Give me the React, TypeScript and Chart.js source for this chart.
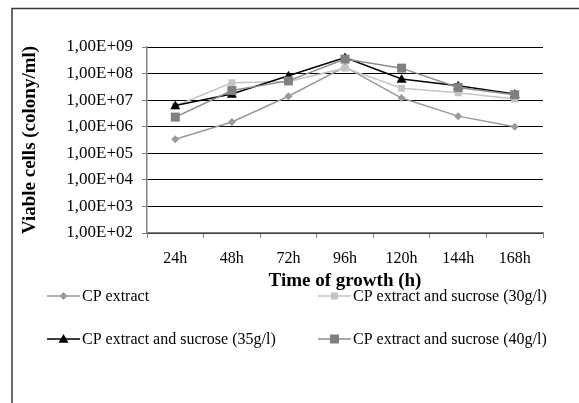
import React, { useEffect, useRef } from 'react';
import { Chart, registerables } from 'chart.js';

Chart.register(...registerables);

const categories = ['24h', '48h', '72h', '96h', '120h', '144h', '168h'];
const seriesLabels = [
  'CP extract',
  'CP extract and sucrose (30g/l)',
  'CP extract and sucrose (35g/l)',
  'CP extract and sucrose (40g/l)',
];
const cpExtract = [3.4e5, 1.5e6, 1.4e7, 1.8e8, 1.2e7, 2.5e6, 1.0e6];
const sucrose30 = [6.0e6, 4.5e7, 5.0e7, 1.6e8, 2.8e7, 1.9e7, 1.1e7];
const sucrose35 = [6.3e6, 1.7e7, 8.3e7, 4.0e8, 6.3e7, 3.5e7, 1.7e7];
const sucrose40 = [2.3e6, 2.3e7, 5.3e7, 3.5e8, 1.6e8, 3.0e7, 1.6e7];
const yTickValues = [1e2, 1e3, 1e4, 1e5, 1e6, 1e7, 1e8, 1e9];
const yTickLabels = ['1,00E+02', '1,00E+03', '1,00E+04', '1,00E+05', '1,00E+06', '1,00E+07', '1,00E+08', '1,00E+09'];
const xTitle = 'Time of growth (h)';
const yTitle = 'Viable cells (colony/ml)';

const FONT = "'Liberation Serif', 'Times New Roman', serif";

type Style = { line: string; fill: string; shape: 'diamond' | 'square' | 'triangle'; size: number };
const styles: Style[] = [
  { line: '#999999', fill: '#999999', shape: 'diamond', size: 4 },
  { line: '#c4c4c4', fill: '#c4c4c4', shape: 'square', size: 3.5 },
  { line: '#000000', fill: '#000000', shape: 'triangle', size: 5 },
  { line: '#8c8c8c', fill: '#808080', shape: 'square', size: 4.5 },
];

function drawMarker(ctx: CanvasRenderingContext2D, s: Style, x: number, y: number) {
  ctx.save();
  ctx.fillStyle = s.fill;
  ctx.beginPath();
  const r = s.size;
  if (s.shape === 'diamond') {
    ctx.moveTo(x, y - r);
    ctx.lineTo(x + r, y);
    ctx.lineTo(x, y + r);
    ctx.lineTo(x - r, y);
    ctx.closePath();
  } else if (s.shape === 'square') {
    ctx.rect(x - r, y - r, 2 * r, 2 * r);
  } else {
    ctx.moveTo(x, y - r);
    ctx.lineTo(x + r, y + r * 0.75);
    ctx.lineTo(x - r, y + r * 0.75);
    ctx.closePath();
  }
  ctx.fill();
  ctx.restore();
}

const framePlugin = {
  id: 'frame',
  beforeDraw(chart: any) {
    const ctx = chart.ctx as CanvasRenderingContext2D;
    ctx.save();
    ctx.fillStyle = '#ffffff';
    ctx.fillRect(0, 0, chart.width, chart.height);
    ctx.strokeStyle = '#3a3a3a';
    ctx.lineWidth = 1.5;
    ctx.strokeRect(12, 8.5, 800, 600);
    ctx.restore();
  },
};

const legendPlugin = {
  id: 'customLegend',
  afterDraw(chart: any) {
    const ctx = chart.ctx as CanvasRenderingContext2D;
    const slots = [
      { x: 47, y: 296 },
      { x: 318, y: 296 },
      { x: 47, y: 339 },
      { x: 318, y: 339 },
    ];
    chart.data.datasets.forEach((ds: any, i: number) => {
      const s = styles[i];
      const { x, y } = slots[i];
      ctx.save();
      ctx.strokeStyle = s.line;
      ctx.lineWidth = 1.5;
      ctx.beginPath();
      ctx.moveTo(x, y);
      ctx.lineTo(x + 33, y);
      ctx.stroke();
      drawMarker(ctx, s, x + 16.5, y);
      ctx.fillStyle = '#000';
      ctx.font = `16px ${FONT}`;
      ctx.textBaseline = 'middle';
      ctx.textAlign = 'left';
      ctx.fillText(ds.label, x + 35, y + 1);
      ctx.restore();
    });
  },
};

const markerPlugin = {
  id: 'markers',
  afterDatasetDraw(chart: any, args: any) {
    const ctx = chart.ctx as CanvasRenderingContext2D;
    const s = styles[args.index];
    const meta = chart.getDatasetMeta(args.index);
    ctx.save();
    ctx.beginPath();
    ctx.rect(chart.chartArea.left - 10, chart.chartArea.top - 10, chart.chartArea.width + 20, chart.chartArea.height + 20);
    ctx.clip();
    meta.data.forEach((pt: any) => drawMarker(ctx, s, pt.x, pt.y));
    ctx.restore();
  },
};

export default function App() {
  const ref = useRef<HTMLCanvasElement | null>(null);
  useEffect(() => {
    if (!ref.current) return;
    const allSeries = [cpExtract, sucrose30, sucrose35, sucrose40];
    const chart = new Chart(ref.current, {
      type: 'line',
      data: {
        labels: categories,
        datasets: allSeries.map((d, i) => ({
          label: seriesLabels[i],
          data: d,
          borderColor: styles[i].line,
          backgroundColor: styles[i].fill,
          borderWidth: 1.5,
          pointRadius: 0,
          pointHoverRadius: 0,
          tension: 0,
          fill: false,
          order: 3 - i,
        })),
      },
      options: {
        responsive: false,
        animation: false,
        events: [],
        layout: { padding: { left: 14, top: 47, right: 36, bottom: 110.1 } },
        plugins: {
          legend: { display: false },
          tooltip: { enabled: false },
        },
        scales: {
          x: {
            type: 'category',
            offset: true,
            grid: {
              offset: true,
              drawOnChartArea: false,
              drawTicks: true,
              tickLength: 5,
              color: '#808080',
              lineWidth: 1,
            },
            border: { color: '#808080', width: 1.5 },
            ticks: {
              color: '#000',
              font: { family: FONT, size: 16 },
              padding: 11,
              maxRotation: 0,
              autoSkip: false,
            },
            title: {
              display: true,
              text: xTitle,
              color: '#000',
              font: { family: FONT, size: 19, weight: 'bold' },
              padding: 0,
            },
            afterFit: (s: any) => {
              s.height = 59.9;
            },
          },
          y: {
            type: 'logarithmic',
            min: 1e2,
            max: 1e9,
            afterBuildTicks: (s: any) => {
              s.ticks = yTickValues.map((v) => ({ value: v }));
            },
            grid: { color: '#000', lineWidth: 1, tickLength: 5, tickColor: '#808080' },
            border: { color: '#808080', width: 1.5 },
            ticks: {
              color: '#000',
              font: { family: FONT, size: 17 },
              padding: 9,
              callback: (v: any) => {
                const idx = yTickValues.indexOf(Number(v));
                return idx >= 0 ? yTickLabels[idx] : '';
              },
            },
            title: {
              display: true,
              text: yTitle,
              color: '#000',
              font: { family: FONT, size: 19, weight: 'bold' },
              padding: { top: 4.6, bottom: 0 },
            },
            afterFit: (s: any) => {
              s.width = 133;
            },
          },
        },
      } as any,
      plugins: [framePlugin, markerPlugin, legendPlugin],
    });
    return () => chart.destroy();
  }, []);
  return (
    <div style={{ position: 'absolute', left: 0, top: 0, width: 579, height: 403, overflow: 'hidden', background: '#fff' }}>
      <canvas ref={ref} width={579} height={403} style={{ width: 579, height: 403, display: 'block' }} />
    </div>
  );
}
